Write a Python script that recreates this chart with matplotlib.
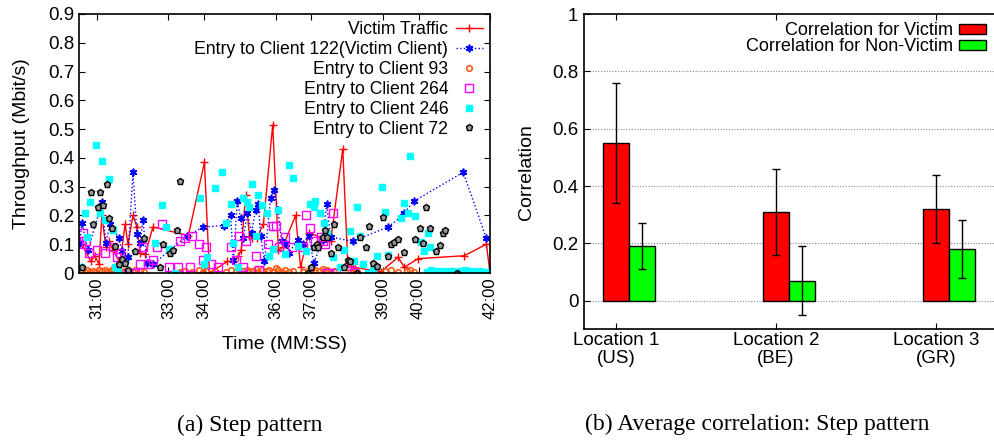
import matplotlib
matplotlib.use("Agg")
import matplotlib.pyplot as plt
from matplotlib.ticker import FixedLocator, FuncFormatter

plt.rcParams['font.family'] = ['Liberation Sans', 'DejaVu Sans']

# --- (a) throughput over time, time in minutes ---
victim_t = [30.58, 30.83, 30.94, 31.06, 31.14, 31.25, 31.34, 31.45, 31.65, 31.79, 31.87, 32.01,
            32.12, 32.21, 32.35, 32.57, 33.56, 34.01, 34.15, 34.65, 34.85, 34.96, 35.04, 35.16,
            35.27, 35.35, 35.47, 35.66, 35.92, 36.08, 36.20, 36.56, 36.70, 36.93, 37.54, 37.88,
            38.02, 38.16, 38.95, 39.43, 39.60, 39.99, 41.28, 41.90, 42.00]
victim_v = [0.10, 0.04, 0.06, 0.03, 0.20, 0.09, 0.11, 0.08, 0.035, 0.17, 0.10, 0.20,
            0.16, 0.07, 0.065, 0.16, 0.13, 0.385, 0.0, 0.04, 0.04, 0.06, 0.08, 0.27,
            0.13, 0.12, 0.12, 0.17, 0.515, 0.08, 0.09, 0.20, 0.02, 0.14, 0.11, 0.43,
            0.035, 0.02, 0.005, 0.055, 0.02, 0.05, 0.06, 0.10, 0.0]

c122_t = [30.52, 30.58, 30.75, 31.14, 31.25, 31.37, 31.62, 31.70, 31.87, 32.01, 32.12, 32.21,
          32.29, 32.40, 32.57, 33.53, 33.98, 34.56, 34.74, 34.82, 34.93, 35.02, 35.10, 35.21,
          35.33, 35.44, 35.52, 35.58, 35.69, 35.86, 35.97, 36.06, 36.17, 36.28, 36.37, 36.62,
          36.76, 36.93, 37.07, 37.32, 37.43, 37.54, 38.16, 39.15, 39.51, 39.60, 39.88, 41.25, 41.90]
c122_v = [0.105, 0.175, 0.08, 0.245, 0.105, 0.17, 0.12, 0.075, 0.055, 0.35, 0.135, 0.105,
          0.185, 0.035, 0.03, 0.13, 0.16, 0.165, 0.20, 0.045, 0.25, 0.19, 0.12, 0.21,
          0.14, 0.22, 0.24, 0.13, 0.04, 0.26, 0.29, 0.22, 0.11, 0.10, 0.07, 0.115,
          0.10, 0.13, 0.035, 0.115, 0.24, 0.125, 0.11, 0.16, 0.195, 0.21, 0.25, 0.35, 0.12]

c93_t = [30.52, 30.58, 30.66, 30.72, 30.80, 30.89, 30.97, 31.06, 31.14, 31.22, 31.28, 31.37,
         31.45, 31.51, 31.62, 31.70, 31.79, 31.87, 32.01, 32.07, 32.21, 32.32, 33.33, 33.47,
         33.67, 33.87, 33.98, 34.06, 34.31, 34.62, 34.74, 34.88, 34.99, 35.10, 35.19, 35.27,
         35.35, 35.44, 35.52, 35.63, 35.75, 35.83, 35.92, 36.00, 36.06, 36.17, 36.25, 36.37,
         36.48, 36.76, 36.90, 36.98, 37.07, 37.10, 37.24, 37.32, 37.38, 37.43, 37.54, 37.63,
         38.08, 38.16, 38.28, 39.06, 39.23, 39.43, 39.68, 39.76, 39.88]
c93_v = [0.005, 0.01, 0.005, 0.01, 0.003, 0.008, 0.004, 0.01, 0.006, 0.012, 0.004, 0.008,
         0.015, 0.005, 0.01, 0.003, 0.007, 0.012, 0.004, 0.009, 0.006, 0.003, 0.004, 0.008,
         0.005, 0.01, 0.004, 0.008, 0.006, 0.005, 0.01, 0.004, 0.012, 0.006, 0.01, 0.004,
         0.008, 0.015, 0.005, 0.01, 0.007, 0.012, 0.005, 0.018, 0.01, 0.005, 0.012, 0.004,
         0.008, 0.003, 0.006, 0.01, 0.004, 0.012, 0.007, 0.015, 0.006, 0.01, 0.004, 0.008,
         0.005, 0.01, 0.004, 0.006, 0.01, 0.004, 0.008, 0.012, 0.005]

c264_t = [30.55, 30.61, 30.69, 30.78, 31.00, 31.22, 31.45, 31.56, 31.65, 31.87, 32.07, 32.21,
          32.29, 32.43, 32.57, 32.69, 32.83, 33.02, 33.28, 33.33, 33.47, 33.60, 33.67, 33.87,
          33.98, 34.06, 34.20, 34.40, 34.74, 34.88, 34.99, 35.10, 35.16, 35.44, 35.55, 35.80,
          35.92, 36.00, 36.10, 36.25, 36.45, 36.76, 36.84, 36.96, 37.10, 37.26, 37.32, 37.38,
          37.45, 37.60, 37.70, 38.10, 38.20]
c264_v = [0.10, 0.14, 0.11, 0.07, 0.08, 0.07, 0.09, 0.055, 0.07, 0.0, 0.0, 0.03,
          0.09, 0.03, 0.045, 0.09, 0.17, 0.02, 0.02, 0.11, 0.12, 0.02, 0.13, 0.10,
          0.045, 0.09, 0.03, 0.02, 0.09, 0.045, 0.13, 0.02, 0.11, 0.06, 0.01, 0.10,
          0.165, 0.165, 0.09, 0.125, 0.09, 0.09, 0.20, 0.155, 0.11, 0.125, 0.11, 0.10,
          0.0, 0.21, 0.0, 0.035, 0.0]

c246_t = [30.55, 30.66, 30.72, 30.80, 30.97, 31.08, 31.14, 31.22, 31.34, 31.45, 31.51, 31.60,
          32.63, 32.83, 32.94, 33.02, 33.20, 33.89, 34.00, 34.09, 34.31, 34.51, 34.62, 34.74,
          34.82, 34.95, 35.10, 35.19, 35.27, 35.35, 35.44, 35.52, 35.63, 35.75, 35.83, 35.94,
          36.06, 36.25, 36.37, 36.48, 36.62, 36.84, 36.96, 37.07, 37.10, 37.24, 37.35, 37.43,
          37.60, 37.80, 37.91, 38.08, 38.20, 38.28, 38.36, 38.45, 38.60, 38.72, 38.84, 38.98,
          39.07, 39.15, 39.51, 39.60, 39.70, 39.77, 39.89, 40.07, 40.15, 40.26, 40.33,
          40.25, 40.35, 40.45, 40.55, 40.65, 40.75, 40.85, 40.95, 41.05, 41.15, 41.30, 41.40,
          41.50, 41.60, 41.70, 41.80, 41.90, 42.00]
c246_v = [0.02, 0.21, 0.125, 0.245, 0.445, 0.21, 0.39, 0.185, 0.325, 0.15, 0.02, 0.01,
          0.105, 0.235, 0.16, 0.085, 0.0, 0.26, 0.03, 0.055, 0.295, 0.35, 0.175, 0.24,
          0.105, 0.02, 0.26, 0.245, 0.23, 0.31, 0.13, 0.27, 0.235, 0.21, 0.06, 0.085,
          0.22, 0.065, 0.375, 0.33, 0.095, 0.075, 0.24, 0.23, 0.25, 0.21, 0.175, 0.14,
          0.055, 0.02, 0.08, 0.145, 0.04, 0.23, 0.13, 0.03, 0.0, 0.01, 0.06, 0.30,
          0.213, 0.062, 0.19, 0.243, 0.208, 0.405, 0.198, 0.109, 0.076, 0.139, 0.091,
          0.005, 0.01, 0.005, 0.008, 0.003, 0.006, 0.004, 0.008, 0.002, 0.006, 0.01, 0.004,
          0.007, 0.003, 0.006, 0.004, 0.005, 0.003]

c72_t = [30.58, 30.83, 30.89, 31.03, 31.08, 31.17, 31.28, 31.34, 31.42, 31.51, 31.62, 31.70,
         31.79, 31.87, 32.07, 32.32, 32.77, 32.85, 33.05, 33.13, 33.25, 33.33, 36.90, 36.98,
         37.07, 37.15, 37.20, 37.32, 37.38, 37.45, 37.54, 37.63, 37.75, 37.91, 38.02, 38.08,
         38.28, 38.36, 38.53, 38.61, 38.72, 38.84, 39.02, 39.14, 39.23, 39.32, 39.42, 39.60,
         39.89, 40.03, 40.12, 40.21, 40.31, 40.49, 40.59, 40.68, 40.75, 41.08]
c72_v = [0.02, 0.28, 0.17, 0.23, 0.28, 0.235, 0.31, 0.19, 0.155, 0.095, 0.03, 0.05,
         0.035, 0.01, 0.075, 0.12, 0.02, 0.10, 0.07, 0.08, 0.15, 0.32, 0.0, 0.02,
         0.09, 0.10, 0.09, 0.125, 0.15, 0.125, 0.07, 0.17, 0.09, 0.02, 0.045, 0.04,
         0.0, 0.125, 0.09, 0.165, 0.035, 0.025, 0.195, 0.059, 0.10, 0.109, 0.117, 0.074,
         0.117, 0.155, 0.105, 0.23, 0.155, 0.076, 0.097, 0.14, 0.15, 0.0]

time_ticks = [31, 33, 34, 36, 37, 39, 40, 42]

# --- (b) average correlation ---
locations = ["Location 1\n(US)", "Location 2\n(BE)", "Location 3\n(GR)"]
corr_victim = [0.55, 0.31, 0.32]
corr_victim_err = [0.21, 0.15, 0.12]
corr_other = [0.19, 0.07, 0.18]
corr_other_err = [0.08, 0.12, 0.10]

fig = plt.figure(figsize=(9.94, 4.41), dpi=100)

ax1 = fig.add_axes([79 / 994, 168 / 441, 411 / 994, 259 / 441])
ax1.plot(victim_t, victim_v, color='red', lw=1, marker='+', ms=6, mew=1,
         label='Victim Traffic')
ax1.plot(c122_t, c122_v, color='blue', lw=1, ls=':', marker=(6, 2, 0), ms=5.5, mew=1.2,
         label='Entry to Client 122(Victim Client)')
ax1.plot(c93_t, c93_v, ls='none', marker='o', ms=4, mfc='none', mec='#ff5a14', mew=1.2,
         label='Entry to Client 93')
ax1.plot(c264_t, c264_v, ls='none', marker='s', ms=5.5, mfc='none', mec='#ff00ff', mew=1,
         label='Entry to Client 264')
ax1.plot(c246_t, c246_v, ls='none', marker='s', ms=5, color='#00ffff',
         label='Entry to Client 246')
ax1.plot(c72_t, c72_v, ls='none', marker='p', ms=5, mfc='#999999', mec='black', mew=1,
         label='Entry to Client 72')

ax1.set_xlim(30.5, 42.0)
ax1.set_ylim(0, 0.9)
ax1.xaxis.set_major_locator(FixedLocator(time_ticks))
ax1.xaxis.set_major_formatter(FuncFormatter(lambda v, p: "%d:00" % round(v)))
ax1.set_yticks([i / 10 for i in range(10)])
ax1.yaxis.set_major_formatter(FuncFormatter(lambda v, p: "%g" % round(v, 1)))
ax1.tick_params(direction='in', top=True, right=True, length=4, labelsize=13.5)
ax1.tick_params(axis='x', labelrotation=90, labelsize=12)
ax1.set_xlabel('Time (MM:SS)', fontsize=14, labelpad=12)
ax1.set_ylabel('Throughput (Mbit/s)', fontsize=14)
ax1.yaxis.set_label_coords(-0.12, 0.5)
for s in ax1.spines.values():
    s.set_linewidth(1.2)
ax1.legend(loc='upper right', markerfirst=False, frameon=False, fontsize=12.7,
           labelspacing=0.16, handlelength=1.5, handletextpad=0.45,
           borderaxespad=0.3, borderpad=0.12)

ax2 = fig.add_axes([584 / 994, 111.6 / 441, 410 / 994, 315.4 / 441])
w = 0.1625
xs = list(range(len(locations)))
ax2.bar(xs, corr_victim, width=w, color='#ff0000', edgecolor='black', lw=1,
        yerr=corr_victim_err, error_kw=dict(ecolor='black', elinewidth=1, capsize=3, capthick=1),
        label='Correlation for Victim', zorder=3)
ax2.bar([x + w for x in xs], corr_other, width=w, color='#00ff00', edgecolor='black', lw=1,
        yerr=corr_other_err, error_kw=dict(ecolor='black', elinewidth=1, capsize=3, capthick=1),
        label='Correlation for Non-Victim', zorder=3)
ax2.set_xlim(-0.2, 2.3625)
ax2.set_ylim(-0.1, 1.0)
ax2.set_xticks(xs)
ax2.set_xticklabels(locations, fontsize=12, linespacing=1.1)
ax2.set_yticks([0, 0.2, 0.4, 0.6, 0.8, 1.0])
ax2.yaxis.set_major_formatter(FuncFormatter(lambda v, p: "%g" % round(v, 1)))
for gy in [0, 0.2, 0.4, 0.6, 0.8]:
    ax2.axhline(gy, color='#888888', lw=0.8, ls=(0, (1, 1.5)), zorder=1)
ax2.tick_params(direction='in', top=True, right=False, length=4, labelsize=13.5, pad=4)
ax2.tick_params(axis='x', pad=2)
ax2.spines['right'].set_visible(False)
for s in ['left', 'top', 'bottom']:
    ax2.spines[s].set_linewidth(1.2)
ax2.set_ylabel('Correlation', fontsize=14)
ax2.yaxis.set_label_coords(-0.12, 0.5)
ax2.legend(loc='upper right', markerfirst=False, frameon=False, fontsize=13,
           labelspacing=-0.05, handlelength=1.5, handleheight=0.5, handletextpad=0.33,
           borderaxespad=0.2, borderpad=0.25)

fig.text(250 / 994, 1 - 425 / 441, '(a) Step pattern', family='Liberation Serif',
         fontsize=17, ha='center', va='center')
fig.text(757 / 994, 1 - 424 / 441, '(b) Average correlation: Step pattern',
         family='Liberation Serif', fontsize=17, ha='center', va='center')

fig.savefig('out.png', dpi=100)
